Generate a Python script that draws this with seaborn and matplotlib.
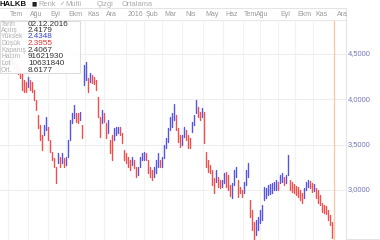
import numpy as np
import pandas as pd
import matplotlib
matplotlib.use("Agg")
import matplotlib.pyplot as plt
import seaborn as sns

# ---- data ----
highs = [4.43, 4.46, 4.41, 4.43, 4.48, 4.46, 4.41, 4.39, 4.37, 4.35,
         4.29, 4.21, 4.19, 4.25, 4.21, 4.19, 4.10, 3.99, 3.83, 3.72,
         3.61, 3.72, 3.80, 3.69, 3.55, 3.42, 3.35, 3.25, 3.41, 3.36,
         3.41, 3.35, 3.36, 3.55, 3.77, 3.85, 3.94, 3.85, 3.85, 3.86,
         3.72, 4.38, 4.41, 4.23, 4.29, 4.27, 4.25, 4.21, 4.03, 3.80,
         3.88, 3.85, 3.74, 3.77, 3.55, 3.61, 3.68, 3.69, 3.69, 3.69,
         3.63, 3.44, 3.41, 3.36, 3.33, 3.36, 3.33, 3.25, 3.25, 3.36,
         3.41, 3.42, 3.41, 3.33, 3.25, 3.22, 3.25, 3.33, 3.41, 3.33,
         3.36, 3.50, 3.57, 3.68, 3.80, 3.85, 3.95, 3.83, 3.68, 3.61,
         3.61, 3.69, 3.66, 3.61, 3.57, 3.75, 3.83, 3.99, 3.92, 3.86,
         3.90, 3.86, 3.42, 3.33, 3.28, 3.22, 3.13, 3.22, 3.14, 3.11,
         3.11, 3.19, 3.20, 3.17, 3.06, 3.08, 3.22, 3.25, 3.11, 3.03,
         3.00, 3.09, 3.22, 3.30, 2.89, 2.78, 2.65, 2.67, 2.70, 2.78,
         2.83, 3.03, 3.02, 3.06, 3.07, 3.08, 3.09, 3.11, 3.09, 3.17,
         3.19, 3.14, 3.17, 3.39, 3.11, 3.09, 3.07, 3.04, 3.03, 3.00,
         2.97, 3.02, 3.09, 3.11, 3.10, 3.08, 3.07, 3.02, 3.00, 2.94,
         2.86, 2.83, 2.82, 2.78, 2.72, 2.65, 2.4348]
lows = [4.35, 4.37, 4.32, 4.36, 4.39, 4.37, 4.32, 4.30, 4.28, 4.23,
        4.10, 4.08, 4.08, 4.14, 4.10, 4.08, 3.99, 3.88, 3.68, 3.55,
        3.44, 3.61, 3.66, 3.55, 3.42, 3.33, 3.25, 3.08, 3.30, 3.25,
        3.30, 3.25, 3.28, 3.36, 3.55, 3.74, 3.79, 3.75, 3.74, 3.77,
        3.57, 4.16, 4.21, 4.08, 4.19, 4.18, 4.17, 4.10, 3.80, 3.58,
        3.74, 3.75, 3.57, 3.63, 3.41, 3.33, 3.55, 3.61, 3.63, 3.61,
        3.52, 3.33, 3.30, 3.25, 3.22, 3.28, 3.24, 3.14, 3.17, 3.25,
        3.33, 3.33, 3.33, 3.19, 3.14, 3.11, 3.14, 3.19, 3.25, 3.25,
        3.25, 3.35, 3.46, 3.53, 3.66, 3.69, 3.77, 3.66, 3.53, 3.47,
        3.50, 3.58, 3.55, 3.46, 3.46, 3.64, 3.72, 3.85, 3.80, 3.77,
        3.80, 3.52, 3.25, 3.20, 3.19, 3.06, 2.97, 3.09, 3.03, 3.02,
        3.03, 3.08, 3.03, 3.00, 2.93, 2.91, 3.06, 3.14, 2.92, 2.97,
        2.92, 2.97, 3.06, 3.14, 2.70, 2.56, 2.39, 2.50, 2.56, 2.64,
        2.67, 2.89, 2.91, 2.94, 2.96, 2.97, 3.00, 3.00, 3.00, 3.08,
        3.09, 3.06, 3.08, 3.17, 3.00, 2.98, 2.97, 2.94, 2.92, 2.89,
        2.86, 2.91, 3.00, 3.03, 3.02, 2.98, 2.99, 2.91, 2.86, 2.83,
        2.76, 2.75, 2.74, 2.67, 2.61, 2.47, 2.3955]

y_ticks = [3.0, 3.5, 4.0, 4.5]
y_tick_labels = ["3,0000", "3,5000", "4,0000", "4,5000"]
months = ["Tem", "Ağu", "Eyl", "Ekm", "Kas", "Ara", "2016", "Şub", "Mar",
          "Nis", "May", "Haz", "Tem", "Ağu", "Eyl", "Ekm", "Kas", "Ara"]
info_labels = ["Tarih", "Açılış", "Yüksek", "Düşük", "Kapanış", "Hacim", "Lot", "Ort."]
info_values = ["02.12.2016", "2.4179", "2.4348", "2.3955", "2.4067",
               "91621930", "10631840", "8.6177"]
symbol = "HALKB"
toolbar = ["Renk", "Multi", "Çizgi", "Ortalama"]

# ---- layout ----
W, H = 380, 240
sns.set_theme(style="white")
plt.rcParams["font.family"] = ["Liberation Sans", "DejaVu Sans"]

fig = plt.figure(figsize=(W / 100, H / 100), dpi=100)
fig.patch.set_facecolor("white")

def fx(x):
    return x / W

def fy(y):
    return 1 - y / H

ax_left, ax_right, ax_top, ax_bot = 0, 346, 20, 240
ax = fig.add_axes([fx(ax_left), fy(ax_bot), fx(ax_right - ax_left), (ax_bot - ax_top) / H])
ax.set_facecolor("white")

n = len(highs)
mids = [(h + l) / 2 for h, l in zip(highs, lows)]
direction = ["up" if i == 0 or mids[i] >= mids[i - 1] else "down" for i in range(n)]
rows = []
for i in range(n):
    rows.append({"bar": i, "x": i, "price": lows[i], "dir": direction[i]})
    rows.append({"bar": i, "x": i, "price": highs[i], "dir": direction[i]})
df = pd.DataFrame(rows)

# x: bar i at pixel 2+2i ; axes spans pixel 0..346
x_lo = (ax_left - 2) / 2
x_hi = (ax_right - 2) / 2
y_lo = 3 + (190 - ax_bot) / 90.7
y_hi = 3 + (190 - ax_top) / 90.7

# grid
month_grid_px = [8, 28, 48, 66, 85, 104, 126, 144, 162, 182, 203, 223, 243, 260, 278, 295, 313]
for gpx in month_grid_px:
    ax.axvline((gpx - 2) / 2, color="#f2f2f2", lw=0.8, zorder=0)
for t in y_ticks:
    ax.axhline(t, color="#eeeeee", lw=0.8, zorder=0)

sns.lineplot(data=df, x="x", y="price", units="bar", estimator=None, hue="dir",
             palette={"up": "#5555e0", "down": "#ee5050"}, sort=False,
             lw=1.0, legend=False, ax=ax, zorder=3)

ax.axvline(n - 1, color="#f6c9a8", lw=1.0, zorder=2)

ax.set_xlim(x_lo, x_hi)
ax.set_ylim(y_lo, y_hi)
ax.set_xticks([])
ax.set_yticks([])
ax.set_xlabel("")
ax.set_ylabel("")
for s in ax.spines.values():
    s.set_visible(False)

# right axis labels
for t, lab in zip(y_ticks, y_tick_labels):
    ypx = 190 - (t - 3.0) * 90.7
    fig.text(fx(348), fy(ypx), lab, fontsize=5.4, color="#7474b4", ha="left", va="center")

# frame lines
fig.add_artist(plt.Line2D([0, fx(346)], [fy(8), fy(8)], color="#e4e4e4", lw=0.8))
fig.add_artist(plt.Line2D([0, fx(346)], [fy(20), fy(20)], color="#e8e8e8", lw=0.8))
fig.add_artist(plt.Line2D([fx(346), fx(346)], [fy(8), fy(240)], color="#e4e4e4", lw=0.8))
fig.add_artist(plt.Line2D([fx(346), fx(380)], [fy(238.5), fy(238.5)], color="#e4e4e4", lw=0.8))

# header row 1
fig.text(fx(0), fy(4), symbol, fontsize=5.6, color="#111111", ha="left", va="center", weight="bold")
fig.text(fx(32), fy(4), "■", fontsize=4.0, color="#222222", ha="left", va="center", family="DejaVu Sans")
fig.text(fx(38), fy(4), toolbar[0], fontsize=5.4, color="#aaaaaa", ha="left", va="center")
fig.text(fx(59), fy(4), "✓", fontsize=4.4, color="#999999", ha="left", va="center", family="DejaVu Sans")
fig.text(fx(65), fy(4), toolbar[1], fontsize=5.4, color="#aaaaaa", ha="left", va="center")
fig.text(fx(97), fy(4), toolbar[2], fontsize=5.4, color="#aaaaaa", ha="left", va="center")
fig.text(fx(122), fy(4), toolbar[3], fontsize=5.4, color="#aaaaaa", ha="left", va="center")

# header row 2: months
month_px = [10, 30, 50, 68, 87, 106, 128, 146, 164, 185, 205, 225, 244, 256, 280, 297, 315, 337]
for m, mpx in zip(months, month_px):
    fig.text(fx(mpx), fy(14), m, fontsize=5.0, color="#9a9a9a", ha="left", va="center")

# info box
box = plt.Rectangle((fx(0), fy(73)), fx(80), (73 - 21) / H, transform=fig.transFigure,
                    facecolor="white", edgecolor="#dcdcdc", lw=0.8, alpha=0.95, zorder=5)
fig.add_artist(box)
row_y = [24, 30.5, 37, 43.5, 50, 57, 63.5, 70]
val_colors = ["#333333", "#333333", "#3344cc", "#e83333", "#333333", "#333333", "#333333", "#333333"]
for lab, val, ry, vc in zip(info_labels, info_values, row_y, val_colors):
    fig.text(fx(1), fy(ry), lab, fontsize=4.9, color="#b0b0b0", ha="left", va="center", zorder=6)
    fig.text(fx(28), fy(ry), val, fontsize=5.9, color=vc, ha="left", va="center", zorder=6)

fig.savefig("out.png", dpi=100, facecolor="white")
